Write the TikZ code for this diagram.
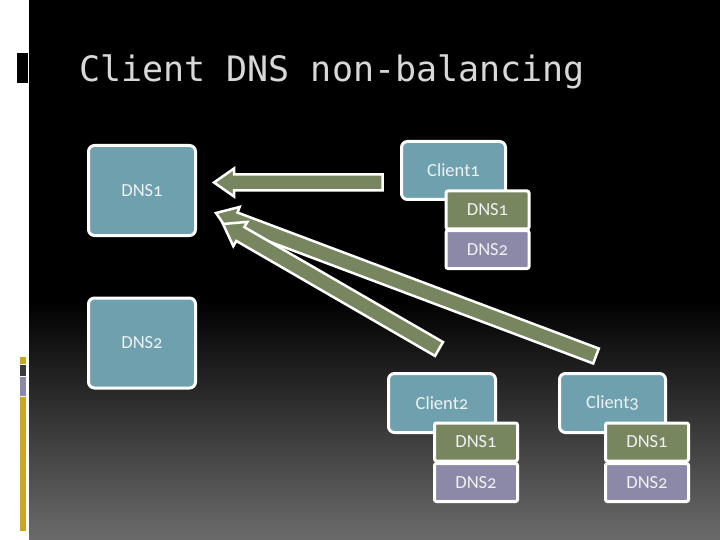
\documentclass[tikz,border=0pt]{standalone}
\usepackage{fontspec}
\setmainfont{Carlito}[Numbers=OldStyle]
\newfontfamily\titlefont{DejaVu Sans Mono}
\usetikzlibrary{calc}

\definecolor{boxblue}{RGB}{110,160,174}
\definecolor{dnsgreen}{RGB}{119,134,94}
\definecolor{dnspurple}{RGB}{139,136,168}
\definecolor{stripgold}{RGB}{200,168,32}
\definecolor{stripdark}{RGB}{58,58,58}
\definecolor{titlegray}{RGB}{216,216,216}
\definecolor{bottomgray}{RGB}{107,107,107}
\definecolor{labelwhite}{RGB}{238,242,242}

\tikzset{
  bigbox/.style={draw=white, line width=3pt, fill=boxblue, rounded corners=6pt,
    text=labelwhite, font=\fontsize{18.5}{20}\selectfont, inner sep=0pt},
  subbox/.style={draw=white, line width=3pt, rounded corners=2pt,
    text=labelwhite, font=\fontsize{18.5}{20}\selectfont, inner sep=0pt,
    minimum width=83pt, minimum height=38pt},
  arrowbody/.style={draw=white, line width=2.5pt, fill=dnsgreen, line join=miter},
  titletext/.style={text=titlegray, font=\titlefont\fontsize{35}{40}\selectfont, inner sep=0pt}
}

% fat block arrow from #1 (tail) to #2 (tip)
\newcommand\fatarrow[2]{%
  \coordinate (hb) at ($(#2)!20pt!(#1)$);
  \filldraw[arrowbody] ($(#1)!8pt!90:(#2)$) -- ($(hb)!8pt!90:(#2)$)
    -- ($(hb)!14pt!90:(#2)$) -- (#2) -- ($(hb)!14pt!-90:(#2)$)
    -- ($(hb)!8pt!-90:(#2)$) -- ($(#1)!8pt!-90:(#2)$) -- cycle;}

\begin{document}
\begin{tikzpicture}[x=1pt,y=-1pt]
\useasboundingbox (0,0) rectangle (720,540);

% background
\fill[white] (0,0) rectangle (720,540);
\fill[black] (29,0) rectangle (720,300);
\shade[top color=black, bottom color=bottomgray] (29,300) rectangle (720,540);

% left strip
\fill[black] (17,53) rectangle (28,83);
\fill[stripgold] (20,357) rectangle (26,364);
\fill[stripdark] (20,365) rectangle (26,376);
\fill[dnspurple] (20,377) rectangle (26,396);
\fill[stripgold] (20,397) rectangle (26,531);

\node[titletext, anchor=base west] (title) at (79,82) {Client DNS non-balancing};

% DNS servers
\node[bigbox, minimum width=107pt, minimum height=90pt] (dns1) at (142,190.5) {DNS1};
\node[bigbox, minimum width=107pt, minimum height=90pt] (dns2) at (142,343) {DNS2};

% clients
\node[bigbox, minimum width=104pt, minimum height=58pt] (client1) at (453.5,170.5) {Client1};
\node[subbox, fill=dnsgreen] (c1dns1) at (487.5,210) {DNS1};
\node[subbox, fill=dnspurple] (c1dns2) at (487.5,249.5) {DNS2};

\node[bigbox, minimum width=107pt, minimum height=59pt] (client2) at (442,403) {Client2};
\node[subbox, fill=dnsgreen] (c2dns1) at (476,442) {DNS1};
\node[subbox, fill=dnspurple] (c2dns2) at (476,482.5) {DNS2};

\node[bigbox, minimum width=106pt, minimum height=59pt] (client3) at (612.5,403) {Client3};
\node[subbox, fill=dnsgreen] (c3dns1) at (647,442) {DNS1};
\node[subbox, fill=dnspurple] (c3dns2) at (647,482.5) {DNS2};

% queries
\coordinate (c1tail) at (382.5,182.5);
\coordinate (c1tip) at (214,182.5);
\coordinate (c3tail) at (596,356);
\coordinate (c3tip) at (216,213);
\coordinate (c2tail) at (439,349);
\coordinate (c2tip) at (223,224);

\fatarrow{c1tail}{c1tip}
\fatarrow{c3tail}{c3tip}
\fatarrow{c2tail}{c2tip}
\end{tikzpicture}
\end{document}
